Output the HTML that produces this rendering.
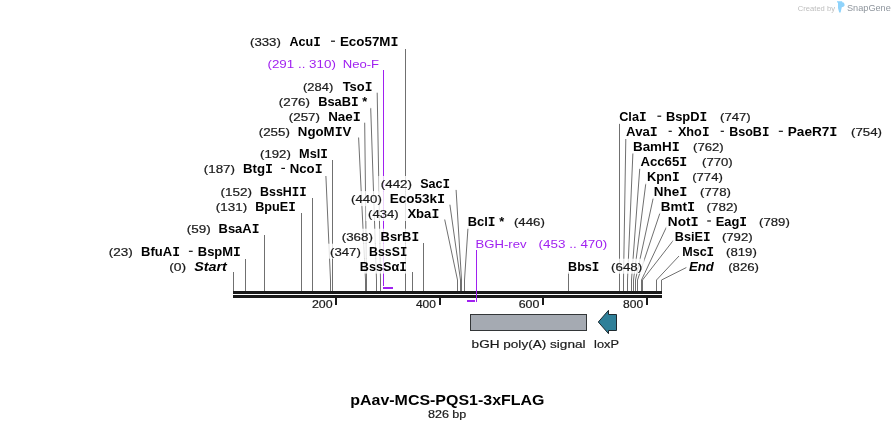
<!DOCTYPE html><html><head><meta charset="utf-8"><style>html,body{margin:0;padding:0;background:#fff;}svg{display:block;will-change:transform}text{font-family:"Liberation Sans",sans-serif}</style></head><body><svg width="895" height="430" viewBox="0 0 895 430"><rect x="0" y="0" width="895" height="430" fill="#fff"/><polyline points="233.5,272 233.5,280 233.5,291" fill="none" stroke="#707070" stroke-width="1"/><polyline points="245.5,259 245.5,280 245.5,291" fill="none" stroke="#707070" stroke-width="1"/><polyline points="264.5,235 264.5,280 264.5,291" fill="none" stroke="#707070" stroke-width="1"/><polyline points="301.5,213 301.5,280 301.5,291" fill="none" stroke="#707070" stroke-width="1"/><polyline points="312.5,198 312.5,280 312.5,291" fill="none" stroke="#707070" stroke-width="1"/><polyline points="325.9,176 330.5,280 330.5,291" fill="none" stroke="#707070" stroke-width="1"/><polyline points="332.5,160 332.5,280 332.5,291" fill="none" stroke="#707070" stroke-width="1"/><polyline points="358.6,137.5 365.5,280 365.5,291" fill="none" stroke="#707070" stroke-width="1"/><polyline points="364.7,122.7 366.5,280 366.5,291" fill="none" stroke="#707070" stroke-width="1"/><polyline points="370.7,107.9 376.5,280 376.5,291" fill="none" stroke="#707070" stroke-width="1"/><polyline points="377.2,92.7 380.5,280 380.5,291" fill="none" stroke="#707070" stroke-width="1"/><polyline points="405.5,49 405.5,280 405.5,291" fill="none" stroke="#707070" stroke-width="1"/><polyline points="412.5,272 412.5,280 412.5,291" fill="none" stroke="#707070" stroke-width="1"/><polyline points="423.5,243 423.5,280 423.5,291" fill="none" stroke="#707070" stroke-width="1"/><polyline points="444.7,219.5 457.5,280 457.5,291" fill="none" stroke="#707070" stroke-width="1"/><polyline points="449.9,204.7 460.5,280 460.5,291" fill="none" stroke="#707070" stroke-width="1"/><polyline points="456.1,189.9 461.5,280 461.5,291" fill="none" stroke="#707070" stroke-width="1"/><polyline points="468.0,227.5 464.5,280 464.5,291" fill="none" stroke="#707070" stroke-width="1"/><polyline points="568.5,272 568.5,280 568.5,291" fill="none" stroke="#707070" stroke-width="1"/><polyline points="619.5,123.6 619.5,280 619.5,291" fill="none" stroke="#707070" stroke-width="1"/><polyline points="625.8,139 623.5,280 623.5,291" fill="none" stroke="#707070" stroke-width="1"/><polyline points="632.9,153 627.5,280 627.5,291" fill="none" stroke="#707070" stroke-width="1"/><polyline points="639.8,167.9 631.5,280 631.5,291" fill="none" stroke="#707070" stroke-width="1"/><polyline points="645.9,182.8 633.5,280 633.5,291" fill="none" stroke="#707070" stroke-width="1"/><polyline points="653.3,197.7 635.5,280 635.5,291" fill="none" stroke="#707070" stroke-width="1"/><polyline points="660.1,212.6 637.5,280 637.5,291" fill="none" stroke="#707070" stroke-width="1"/><polyline points="666.7,226.5 641.5,280 641.5,291" fill="none" stroke="#707070" stroke-width="1"/><polyline points="673.7,239.9 642.5,280 642.5,291" fill="none" stroke="#707070" stroke-width="1"/><polyline points="679.0,256 656.5,280 656.5,291" fill="none" stroke="#707070" stroke-width="1"/><polyline points="686.8,267.3 661.5,280 661.5,291" fill="none" stroke="#707070" stroke-width="1"/><line x1="383.5" y1="70" x2="383.5" y2="286" stroke="#a020f0" stroke-width="1"/><rect x="383" y="287" width="10" height="2" fill="#a020f0"/><rect x="247.6" y="33.8" width="153.0" height="15" fill="#fff" fill-opacity="0.8"/><rect x="265.3" y="56.1" width="116.3" height="15" fill="#fff" fill-opacity="0.8"/><rect x="300.6" y="79.0" width="73.9" height="15" fill="#fff" fill-opacity="0.8"/><rect x="276.4" y="93.9" width="94.0" height="15" fill="#fff" fill-opacity="0.8"/><rect x="286.4" y="108.8" width="76.6" height="15" fill="#fff" fill-opacity="0.8"/><rect x="616.7" y="108.8" width="136.2" height="15" fill="#fff" fill-opacity="0.8"/><rect x="256.3" y="123.7" width="98.1" height="15" fill="#fff" fill-opacity="0.8"/><rect x="623.4" y="123.9" width="260.8" height="15" fill="#fff" fill-opacity="0.8"/><rect x="630.8" y="138.6" width="95.1" height="15" fill="#fff" fill-opacity="0.8"/><rect x="257.6" y="146.0" width="72.6" height="15" fill="#fff" fill-opacity="0.8"/><rect x="637.7" y="154.0" width="51.6" height="15" fill="#fff" fill-opacity="0.8"/><rect x="699.7" y="154.0" width="35.2" height="15" fill="#fff" fill-opacity="0.8"/><rect x="201.4" y="161.0" width="123.2" height="15" fill="#fff" fill-opacity="0.8"/><rect x="644.8" y="169.3" width="80.2" height="15" fill="#fff" fill-opacity="0.8"/><rect x="378.4" y="176.0" width="73.9" height="15" fill="#fff" fill-opacity="0.8"/><rect x="651.7" y="183.8" width="81.4" height="15" fill="#fff" fill-opacity="0.8"/><rect x="218.2" y="183.9" width="90.6" height="15" fill="#fff" fill-opacity="0.8"/><rect x="348.6" y="191.1" width="98.7" height="15" fill="#fff" fill-opacity="0.8"/><rect x="658.6" y="198.7" width="81.4" height="15" fill="#fff" fill-opacity="0.8"/><rect x="213.5" y="199.2" width="84.5" height="15" fill="#fff" fill-opacity="0.8"/><rect x="365.7" y="206.0" width="75.8" height="15" fill="#fff" fill-opacity="0.8"/><rect x="665.7" y="213.6" width="126.3" height="15" fill="#fff" fill-opacity="0.8"/><rect x="465.6" y="213.9" width="81.4" height="15" fill="#fff" fill-opacity="0.8"/><rect x="184.4" y="221.0" width="77.1" height="15" fill="#fff" fill-opacity="0.8"/><rect x="339.3" y="228.7" width="81.9" height="15" fill="#fff" fill-opacity="0.8"/><rect x="672.6" y="229.0" width="82.3" height="15" fill="#fff" fill-opacity="0.8"/><rect x="473.4" y="235.9" width="136.2" height="15" fill="#fff" fill-opacity="0.8"/><rect x="327.6" y="243.7" width="81.9" height="15" fill="#fff" fill-opacity="0.8"/><rect x="106.3" y="243.9" width="136.6" height="15" fill="#fff" fill-opacity="0.8"/><rect x="680.0" y="243.9" width="79.0" height="15" fill="#fff" fill-opacity="0.8"/><rect x="357.6" y="258.6" width="51.4" height="15" fill="#fff" fill-opacity="0.8"/><rect x="565.9" y="258.7" width="78.4" height="15" fill="#fff" fill-opacity="0.8"/><rect x="166.8" y="258.8" width="63.6" height="15" fill="#fff" fill-opacity="0.8"/><rect x="686.3" y="258.9" width="74.9" height="15" fill="#fff" fill-opacity="0.8"/><rect x="233" y="291" width="429" height="3" fill="#1a1a1a"/><rect x="233" y="295" width="429" height="3" fill="#1a1a1a"/><rect x="335" y="297" width="2" height="8" fill="#1a1a1a"/><rect x="439" y="297" width="2" height="8" fill="#1a1a1a"/><rect x="542" y="297" width="2" height="8" fill="#1a1a1a"/><rect x="646" y="297" width="2" height="8" fill="#1a1a1a"/><line x1="476.5" y1="250" x2="476.5" y2="302" stroke="#a020f0" stroke-width="1"/><rect x="467" y="300" width="8" height="2" fill="#a020f0"/><rect x="470.5" y="314.5" width="116" height="16" fill="#a5aab2" stroke="#333638" stroke-width="1"/><polygon points="598.3,322 608.5,310.3 608.5,314.5 616.5,314.5 616.5,330.5 608.5,330.5 608.5,333.7" fill="#2f8099" stroke="#1e2a30" stroke-width="1"/><text x="250.00" y="45.8" font-size="11" font-weight="normal" font-style="normal" fill="#1a1a1a" stroke="#1a1a1a" stroke-width="0.2" textLength="30.83" lengthAdjust="spacingAndGlyphs">(333)</text><text x="289.44" y="45.8" font-size="12" font-weight="bold" font-style="normal" fill="#000000" textLength="31.28" lengthAdjust="spacingAndGlyphs">Acu<tspan font-family="Liberation Mono">I</tspan></text><rect x="331.0" y="40.6" width="4.0" height="1.2" fill="#111"/><text x="339.96" y="45.8" font-size="12" font-weight="bold" font-style="normal" fill="#000000" textLength="58.54" lengthAdjust="spacingAndGlyphs">Eco57M<tspan font-family="Liberation Mono">I</tspan></text><text x="267.43" y="68.1" font-size="11.5" font-weight="normal" font-style="normal" fill="#a020f0" textLength="68.45" lengthAdjust="spacingAndGlyphs">(291 .. 310)</text><text x="342.75" y="68.1" font-size="11.5" font-weight="normal" font-style="normal" fill="#a020f0" textLength="36.37" lengthAdjust="spacingAndGlyphs">Neo-F</text><text x="303.01" y="91.0" font-size="11" font-weight="normal" font-style="normal" fill="#1a1a1a" stroke="#1a1a1a" stroke-width="0.2" textLength="30.20" lengthAdjust="spacingAndGlyphs">(284)</text><text x="342.70" y="91.0" font-size="12" font-weight="bold" font-style="normal" fill="#000000" textLength="29.78" lengthAdjust="spacingAndGlyphs">Tso<tspan font-family="Liberation Mono">I</tspan></text><text x="278.79" y="105.9" font-size="11" font-weight="normal" font-style="normal" fill="#1a1a1a" stroke="#1a1a1a" stroke-width="0.2" textLength="31.24" lengthAdjust="spacingAndGlyphs">(276)</text><text x="318.20" y="105.9" font-size="12" font-weight="bold" font-style="normal" fill="#000000" textLength="49.10" lengthAdjust="spacingAndGlyphs">BsaB<tspan font-family="Liberation Mono">I</tspan> *</text><text x="288.79" y="120.8" font-size="11" font-weight="normal" font-style="normal" fill="#1a1a1a" stroke="#1a1a1a" stroke-width="0.2" textLength="31.24" lengthAdjust="spacingAndGlyphs">(257)</text><text x="328.16" y="120.8" font-size="12" font-weight="bold" font-style="normal" fill="#000000" textLength="32.64" lengthAdjust="spacingAndGlyphs">Nae<tspan font-family="Liberation Mono">I</tspan></text><text x="258.69" y="135.7" font-size="11" font-weight="normal" font-style="normal" fill="#1a1a1a" stroke="#1a1a1a" stroke-width="0.2" textLength="31.14" lengthAdjust="spacingAndGlyphs">(255)</text><text x="297.87" y="135.7" font-size="12" font-weight="bold" font-style="normal" fill="#000000" textLength="53.58" lengthAdjust="spacingAndGlyphs">NgoM<tspan font-family="Liberation Mono">I</tspan>V</text><text x="260.00" y="158.0" font-size="11" font-weight="normal" font-style="normal" fill="#1a1a1a" stroke="#1a1a1a" stroke-width="0.2" textLength="30.82" lengthAdjust="spacingAndGlyphs">(192)</text><text x="299.10" y="158.0" font-size="12" font-weight="bold" font-style="normal" fill="#000000" textLength="28.86" lengthAdjust="spacingAndGlyphs">Msl<tspan font-family="Liberation Mono">I</tspan></text><text x="203.79" y="173.0" font-size="11" font-weight="normal" font-style="normal" fill="#1a1a1a" stroke="#1a1a1a" stroke-width="0.2" textLength="31.24" lengthAdjust="spacingAndGlyphs">(187)</text><text x="243.07" y="173.0" font-size="12" font-weight="bold" font-style="normal" fill="#000000" textLength="30.00" lengthAdjust="spacingAndGlyphs">Btg<tspan font-family="Liberation Mono">I</tspan></text><rect x="281.3" y="167.8" width="3.7" height="1.2" fill="#111"/><text x="289.78" y="173.0" font-size="12" font-weight="bold" font-style="normal" fill="#000000" textLength="32.78" lengthAdjust="spacingAndGlyphs">Nco<tspan font-family="Liberation Mono">I</tspan></text><text x="220.59" y="195.9" font-size="11" font-weight="normal" font-style="normal" fill="#1a1a1a" stroke="#1a1a1a" stroke-width="0.2" textLength="31.56" lengthAdjust="spacingAndGlyphs">(152)</text><text x="260.02" y="195.9" font-size="12" font-weight="bold" font-style="normal" fill="#000000" textLength="46.65" lengthAdjust="spacingAndGlyphs">BssH<tspan font-family="Liberation Mono">I</tspan><tspan font-family="Liberation Mono">I</tspan></text><text x="215.89" y="211.2" font-size="11" font-weight="normal" font-style="normal" fill="#1a1a1a" stroke="#1a1a1a" stroke-width="0.2" textLength="31.24" lengthAdjust="spacingAndGlyphs">(131)</text><text x="255.21" y="211.2" font-size="12" font-weight="bold" font-style="normal" fill="#000000" textLength="40.63" lengthAdjust="spacingAndGlyphs">BpuE<tspan font-family="Liberation Mono">I</tspan></text><text x="186.79" y="233.0" font-size="11" font-weight="normal" font-style="normal" fill="#1a1a1a" stroke="#1a1a1a" stroke-width="0.2" textLength="24.00" lengthAdjust="spacingAndGlyphs">(59)</text><text x="218.59" y="233.0" font-size="12" font-weight="bold" font-style="normal" fill="#000000" textLength="40.87" lengthAdjust="spacingAndGlyphs">BsaA<tspan font-family="Liberation Mono">I</tspan></text><text x="108.69" y="255.9" font-size="11" font-weight="normal" font-style="normal" fill="#1a1a1a" stroke="#1a1a1a" stroke-width="0.2" textLength="24.00" lengthAdjust="spacingAndGlyphs">(23)</text><text x="141.09" y="255.9" font-size="12" font-weight="bold" font-style="normal" fill="#000000" textLength="38.86" lengthAdjust="spacingAndGlyphs">BfuA<tspan font-family="Liberation Mono">I</tspan></text><rect x="188.9" y="250.7" width="3.8" height="1.2" fill="#111"/><text x="197.79" y="255.9" font-size="12" font-weight="bold" font-style="normal" fill="#000000" textLength="43.05" lengthAdjust="spacingAndGlyphs">BspM<tspan font-family="Liberation Mono">I</tspan></text><text x="169.17" y="270.8" font-size="11" font-weight="normal" font-style="normal" fill="#1a1a1a" stroke="#1a1a1a" stroke-width="0.2" textLength="16.91" lengthAdjust="spacingAndGlyphs">(0)</text><text x="194.20" y="270.8" font-size="12" font-weight="bold" font-style="italic" fill="#000000" textLength="32.71" lengthAdjust="spacingAndGlyphs">Start</text><text x="380.79" y="188.0" font-size="11" font-weight="normal" font-style="normal" fill="#1a1a1a" stroke="#1a1a1a" stroke-width="0.2" textLength="31.24" lengthAdjust="spacingAndGlyphs">(442)</text><text x="420.24" y="188.0" font-size="12" font-weight="bold" font-style="normal" fill="#000000" textLength="29.91" lengthAdjust="spacingAndGlyphs">Sac<tspan font-family="Liberation Mono">I</tspan></text><text x="351.00" y="203.1" font-size="11" font-weight="normal" font-style="normal" fill="#1a1a1a" stroke="#1a1a1a" stroke-width="0.2" textLength="30.82" lengthAdjust="spacingAndGlyphs">(440)</text><text x="389.86" y="203.1" font-size="12" font-weight="bold" font-style="normal" fill="#000000" textLength="55.27" lengthAdjust="spacingAndGlyphs">Eco53k<tspan font-family="Liberation Mono">I</tspan></text><text x="368.11" y="218.0" font-size="11" font-weight="normal" font-style="normal" fill="#1a1a1a" stroke="#1a1a1a" stroke-width="0.2" textLength="30.51" lengthAdjust="spacingAndGlyphs">(434)</text><text x="407.40" y="218.0" font-size="12" font-weight="bold" font-style="normal" fill="#000000" textLength="31.88" lengthAdjust="spacingAndGlyphs">Xba<tspan font-family="Liberation Mono">I</tspan></text><text x="341.69" y="240.7" font-size="11" font-weight="normal" font-style="normal" fill="#1a1a1a" stroke="#1a1a1a" stroke-width="0.2" textLength="31.24" lengthAdjust="spacingAndGlyphs">(368)</text><text x="380.59" y="240.7" font-size="12" font-weight="bold" font-style="normal" fill="#000000" textLength="38.56" lengthAdjust="spacingAndGlyphs">BsrB<tspan font-family="Liberation Mono">I</tspan></text><text x="330.00" y="255.7" font-size="11" font-weight="normal" font-style="normal" fill="#1a1a1a" stroke="#1a1a1a" stroke-width="0.2" textLength="30.82" lengthAdjust="spacingAndGlyphs">(347)</text><text x="369.13" y="255.7" font-size="12" font-weight="bold" font-style="normal" fill="#000000" textLength="38.12" lengthAdjust="spacingAndGlyphs">BssS<tspan font-family="Liberation Mono">I</tspan></text><text x="359.81" y="270.6" font-size="12" font-weight="bold" font-style="normal" fill="#000000" textLength="47.10" lengthAdjust="spacingAndGlyphs">BssSα<tspan font-family="Liberation Mono">I</tspan></text><text x="467.79" y="225.9" font-size="12" font-weight="bold" font-style="normal" fill="#000000" textLength="36.40" lengthAdjust="spacingAndGlyphs">Bcl<tspan font-family="Liberation Mono">I</tspan> *</text><text x="513.90" y="225.9" font-size="11" font-weight="normal" font-style="normal" fill="#1a1a1a" stroke="#1a1a1a" stroke-width="0.2" textLength="30.93" lengthAdjust="spacingAndGlyphs">(446)</text><text x="475.55" y="247.9" font-size="11.5" font-weight="normal" font-style="normal" fill="#a020f0" textLength="50.94" lengthAdjust="spacingAndGlyphs">BGH-rev</text><text x="538.62" y="247.9" font-size="11.5" font-weight="normal" font-style="normal" fill="#a020f0" textLength="68.65" lengthAdjust="spacingAndGlyphs">(453 .. 470)</text><text x="568.11" y="270.7" font-size="12" font-weight="bold" font-style="normal" fill="#000000" textLength="31.30" lengthAdjust="spacingAndGlyphs">Bbs<tspan font-family="Liberation Mono">I</tspan></text><text x="611.10" y="270.7" font-size="11" font-weight="normal" font-style="normal" fill="#1a1a1a" stroke="#1a1a1a" stroke-width="0.2" textLength="31.03" lengthAdjust="spacingAndGlyphs">(648)</text><text x="619.17" y="120.8" font-size="12" font-weight="bold" font-style="normal" fill="#000000" textLength="27.48" lengthAdjust="spacingAndGlyphs">Cla<tspan font-family="Liberation Mono">I</tspan></text><rect x="657.4" y="115.6" width="3.8" height="1.2" fill="#111"/><text x="665.90" y="120.8" font-size="12" font-weight="bold" font-style="normal" fill="#000000" textLength="41.36" lengthAdjust="spacingAndGlyphs">BspD<tspan font-family="Liberation Mono">I</tspan></text><text x="720.10" y="120.8" font-size="11" font-weight="normal" font-style="normal" fill="#1a1a1a" stroke="#1a1a1a" stroke-width="0.2" textLength="30.62" lengthAdjust="spacingAndGlyphs">(747)</text><text x="626.13" y="135.9" font-size="12" font-weight="bold" font-style="normal" fill="#000000" textLength="31.63" lengthAdjust="spacingAndGlyphs">Ava<tspan font-family="Liberation Mono">I</tspan></text><rect x="668.6" y="130.7" width="3.2" height="1.2" fill="#111"/><text x="677.90" y="135.9" font-size="12" font-weight="bold" font-style="normal" fill="#000000" textLength="31.63" lengthAdjust="spacingAndGlyphs">Xho<tspan font-family="Liberation Mono">I</tspan></text><rect x="720.7" y="130.7" width="3.2" height="1.2" fill="#111"/><text x="729.22" y="135.9" font-size="12" font-weight="bold" font-style="normal" fill="#000000" textLength="40.21" lengthAdjust="spacingAndGlyphs">BsoB<tspan font-family="Liberation Mono">I</tspan></text><rect x="778.8" y="130.7" width="4.1" height="1.2" fill="#111"/><text x="787.75" y="135.9" font-size="12" font-weight="bold" font-style="normal" fill="#000000" textLength="49.78" lengthAdjust="spacingAndGlyphs">PaeR7<tspan font-family="Liberation Mono">I</tspan></text><text x="851.00" y="135.9" font-size="11" font-weight="normal" font-style="normal" fill="#1a1a1a" stroke="#1a1a1a" stroke-width="0.2" textLength="31.03" lengthAdjust="spacingAndGlyphs">(754)</text><text x="632.96" y="150.6" font-size="12" font-weight="bold" font-style="normal" fill="#000000" textLength="46.83" lengthAdjust="spacingAndGlyphs">BamH<tspan font-family="Liberation Mono">I</tspan></text><text x="693.10" y="150.6" font-size="11" font-weight="normal" font-style="normal" fill="#1a1a1a" stroke="#1a1a1a" stroke-width="0.2" textLength="30.62" lengthAdjust="spacingAndGlyphs">(762)</text><text x="640.43" y="166.0" font-size="12" font-weight="bold" font-style="normal" fill="#000000" textLength="46.78" lengthAdjust="spacingAndGlyphs">Acc65<tspan font-family="Liberation Mono">I</tspan></text><text x="702.10" y="166.0" font-size="11" font-weight="normal" font-style="normal" fill="#1a1a1a" stroke="#1a1a1a" stroke-width="0.2" textLength="30.62" lengthAdjust="spacingAndGlyphs">(770)</text><text x="647.00" y="181.3" font-size="12" font-weight="bold" font-style="normal" fill="#000000" textLength="32.64" lengthAdjust="spacingAndGlyphs">Kpn<tspan font-family="Liberation Mono">I</tspan></text><text x="692.20" y="181.3" font-size="11" font-weight="normal" font-style="normal" fill="#1a1a1a" stroke="#1a1a1a" stroke-width="0.2" textLength="30.62" lengthAdjust="spacingAndGlyphs">(774)</text><text x="653.86" y="195.8" font-size="12" font-weight="bold" font-style="normal" fill="#000000" textLength="33.52" lengthAdjust="spacingAndGlyphs">Nhe<tspan font-family="Liberation Mono">I</tspan></text><text x="700.10" y="195.8" font-size="11" font-weight="normal" font-style="normal" fill="#1a1a1a" stroke="#1a1a1a" stroke-width="0.2" textLength="30.82" lengthAdjust="spacingAndGlyphs">(778)</text><text x="660.76" y="210.7" font-size="12" font-weight="bold" font-style="normal" fill="#000000" textLength="34.34" lengthAdjust="spacingAndGlyphs">Bmt<tspan font-family="Liberation Mono">I</tspan></text><text x="706.59" y="210.7" font-size="11" font-weight="normal" font-style="normal" fill="#1a1a1a" stroke="#1a1a1a" stroke-width="0.2" textLength="31.24" lengthAdjust="spacingAndGlyphs">(782)</text><text x="667.85" y="225.6" font-size="12" font-weight="bold" font-style="normal" fill="#000000" textLength="30.85" lengthAdjust="spacingAndGlyphs">Not<tspan font-family="Liberation Mono">I</tspan></text><rect x="707.2" y="220.4" width="3.7" height="1.2" fill="#111"/><text x="715.69" y="225.6" font-size="12" font-weight="bold" font-style="normal" fill="#000000" textLength="31.38" lengthAdjust="spacingAndGlyphs">Eag<tspan font-family="Liberation Mono">I</tspan></text><text x="759.10" y="225.6" font-size="11" font-weight="normal" font-style="normal" fill="#1a1a1a" stroke="#1a1a1a" stroke-width="0.2" textLength="30.72" lengthAdjust="spacingAndGlyphs">(789)</text><text x="674.81" y="241.0" font-size="12" font-weight="bold" font-style="normal" fill="#000000" textLength="35.73" lengthAdjust="spacingAndGlyphs">BsiE<tspan font-family="Liberation Mono">I</tspan></text><text x="721.90" y="241.0" font-size="11" font-weight="normal" font-style="normal" fill="#1a1a1a" stroke="#1a1a1a" stroke-width="0.2" textLength="30.82" lengthAdjust="spacingAndGlyphs">(792)</text><text x="682.22" y="255.9" font-size="12" font-weight="bold" font-style="normal" fill="#000000" textLength="31.92" lengthAdjust="spacingAndGlyphs">Msc<tspan font-family="Liberation Mono">I</tspan></text><text x="726.10" y="255.9" font-size="11" font-weight="normal" font-style="normal" fill="#1a1a1a" stroke="#1a1a1a" stroke-width="0.2" textLength="30.72" lengthAdjust="spacingAndGlyphs">(819)</text><text x="689.03" y="270.9" font-size="12" font-weight="bold" font-style="italic" fill="#000000" textLength="24.81" lengthAdjust="spacingAndGlyphs">End</text><text x="728.20" y="270.9" font-size="11" font-weight="normal" font-style="normal" fill="#1a1a1a" stroke="#1a1a1a" stroke-width="0.2" textLength="30.83" lengthAdjust="spacingAndGlyphs">(826)</text><text x="311.94" y="307.9" font-size="11" font-weight="normal" font-style="normal" fill="#1a1a1a" stroke="#1a1a1a" stroke-width="0.2" textLength="20.67" lengthAdjust="spacingAndGlyphs">200</text><text x="415.93" y="307.9" font-size="11" font-weight="normal" font-style="normal" fill="#1a1a1a" stroke="#1a1a1a" stroke-width="0.2" textLength="19.96" lengthAdjust="spacingAndGlyphs">400</text><text x="518.74" y="307.9" font-size="11" font-weight="normal" font-style="normal" fill="#1a1a1a" stroke="#1a1a1a" stroke-width="0.2" textLength="20.67" lengthAdjust="spacingAndGlyphs">600</text><text x="623.05" y="307.9" font-size="11" font-weight="normal" font-style="normal" fill="#1a1a1a" stroke="#1a1a1a" stroke-width="0.2" textLength="20.14" lengthAdjust="spacingAndGlyphs">800</text><text x="471.62" y="347.8" font-size="11.5" font-weight="normal" font-style="normal" fill="#1a1a1a" stroke="#1a1a1a" stroke-width="0.2" textLength="113.89" lengthAdjust="spacingAndGlyphs">bGH poly(A) signal</text><text x="594.07" y="347.8" font-size="11.5" font-weight="normal" font-style="normal" fill="#1a1a1a" stroke="#1a1a1a" stroke-width="0.2" textLength="24.83" lengthAdjust="spacingAndGlyphs">loxP</text><text x="350.24" y="404.6" font-size="14" font-weight="bold" font-style="normal" fill="#000000" textLength="194.23" lengthAdjust="spacingAndGlyphs">pAav-MCS-PQS1-3xFLAG</text><text x="427.93" y="418.1" font-size="11" font-weight="normal" font-style="normal" fill="#1a1a1a" stroke="#1a1a1a" stroke-width="0.2" textLength="38.43" lengthAdjust="spacingAndGlyphs">826 bp</text><text x="797.8" y="10.6" font-size="8" fill="#bdbdbd" textLength="37.2" lengthAdjust="spacingAndGlyphs">Created by</text><path d="M837,1.3 L842.2,1.3 L842.2,2.3 L843.6,2.6 L844.5,4 L844.5,5.8 L843.4,6.8 L841.8,7.2 L840.6,12.4 L839.2,12.4 L838,8 L838,2.6 L837,2.6 Z" fill="#8fd3fb"/><text x="847" y="10.5" font-size="9.2" fill="#8d949c" textLength="43.8" lengthAdjust="spacingAndGlyphs">SnapGene</text></svg></body></html>
